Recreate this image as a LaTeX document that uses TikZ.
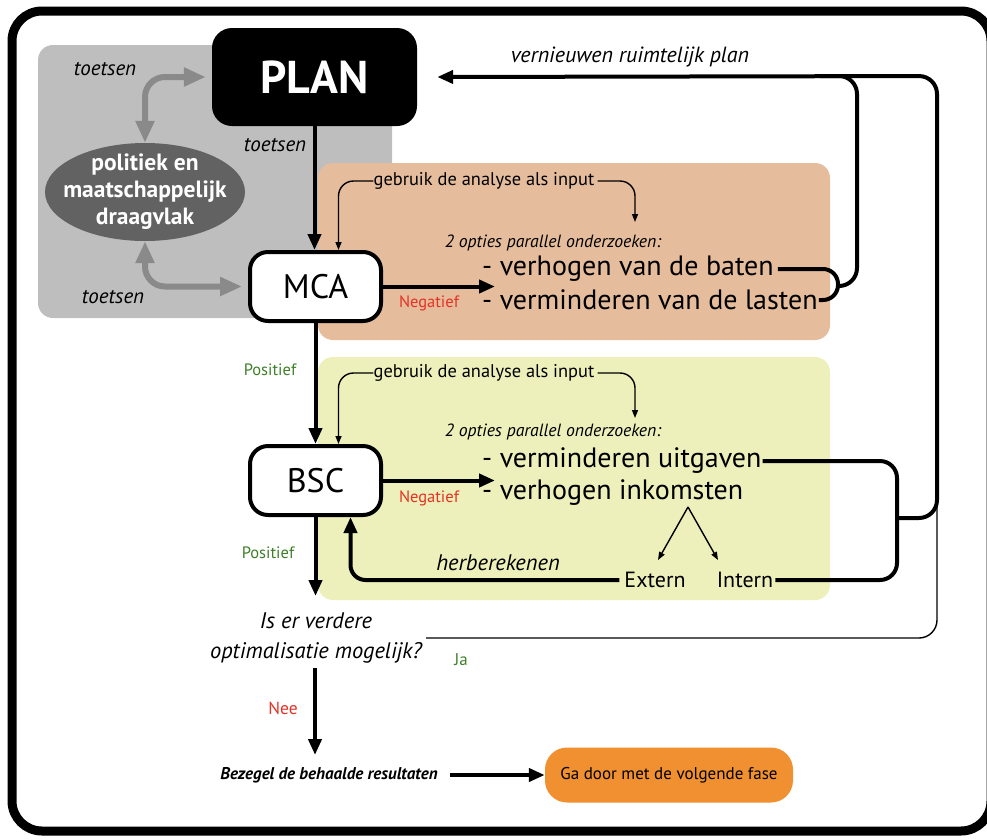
\documentclass[tikz,border=0pt]{standalone}
\usepackage{fontspec}
\setmainfont{PT Sans}
\usetikzlibrary{arrows.meta,shapes.geometric}
\definecolor{peach}{RGB}{229,189,156}
\definecolor{pale}{RGB}{237,240,186}
\definecolor{regiongray}{RGB}{190,190,190}
\definecolor{arrowgray}{RGB}{138,138,138}
\definecolor{ovalgray}{RGB}{98,98,98}
\definecolor{nogo}{RGB}{228,50,38}
\definecolor{go}{RGB}{62,128,40}
\definecolor{gofase}{RGB}{240,144,48}
\tikzset{
  procbox/.style={draw, line width=4pt, rounded corners=18pt, fill=white,
    minimum width=131pt, minimum height=69pt, inner sep=0pt,
    font=\fontsize{34}{38}\selectfont},
  flow/.style={line width=4pt, -{Triangle[length=16pt,width=13pt]}},
  bar/.style={line width=4pt},
  thinflow/.style={line width=1.4pt, -{Triangle[length=8pt,width=6pt]}},
  grayflow/.style={draw=arrowgray, line width=6pt,
    {Triangle[length=22pt,width=18pt]}-{Triangle[length=22pt,width=18pt]}},
  lbl/.style={inner sep=0pt, font=\fontsize{21}{25}\selectfont\itshape},
  small/.style={inner sep=0pt, font=\fontsize{18.4}{22}\selectfont},
  opties/.style={inner sep=0pt, font=\fontsize{17.7}{21}\selectfont\itshape},
  option/.style={inner sep=0pt, anchor=west, font=\fontsize{28}{33}\selectfont},
  yes/.style={inner sep=0pt, text=go, font=\fontsize{16.5}{20}\selectfont},
  no/.style={inner sep=0pt, text=nogo, font=\fontsize{16.5}{20}\selectfont}
}
\begin{document}
\begin{tikzpicture}[x=1pt,y=-1pt]
  \useasboundingbox (0,0) rectangle (987,839);
  \draw[line width=9pt, rounded corners=30pt] (12,11) rectangle (991,831);
  \fill[regiongray, rounded corners=15pt] (38,45) rectangle (392,318);
  \fill[peach, rounded corners=15pt] (318,163) rectangle (830,340);
  \fill[pale, rounded corners=15pt] (318,357) rectangle (830,600);

  \node[fill=black, text=white, rounded corners=20pt, minimum width=205pt,
    minimum height=98pt, font=\fontsize{46}{50}\selectfont\bfseries] (plan) at (314.5,77) {PLAN};
  \node[ellipse, fill=ovalgray, minimum width=200pt, minimum height=98pt,
    inner sep=0pt] (draagvlak) at (145,192) {};
  \node[text=white, align=center, inner sep=0pt,
    font=\fontsize{23.5}{27}\selectfont\bfseries] (draagvlaktekst) at (draagvlak)
    {politiek en\\maatschappelijk\\draagvlak};
  \node[procbox] (mca) at (315.5,286.5) {MCA};
  \node[procbox] (bsc) at (315.5,480.5) {BSC};

  \node[lbl] (toets1) at (105,69) {toetsen};
  \node[lbl] (toets2) at (275,145) {toetsen};
  \node[lbl] (toets3) at (113,297) {toetsen};
  \node[lbl, font=\fontsize{22}{26}\selectfont\itshape] (vernieuw) at (630,57) {vernieuwen ruimtelijk plan};

  \node[small] (gebruik1) at (484,181) {gebruik de analyse als input};
  \node[opties] (opties1) at (553,243) {2 opties parallel onderzoeken:};
  \node[option] (baten) at (482,269) {- verhogen van de baten};
  \node[option] (lasten) at (482,300) {- verminderen van de lasten};
  \node[no] (neg1) at (429,303) {Negatief};
  \node[yes] (pos1) at (270,370) {Positief};

  \node[small] (gebruik2) at (484,373) {gebruik de analyse als input};
  \node[opties] (opties2) at (553,432) {2 opties parallel onderzoeken:};
  \node[option] (uitgaven) at (482,461) {- verminderen uitgaven};
  \node[option] (inkomsten) at (482,493) {- verhogen inkomsten};
  \node[no] (neg2) at (429,498) {Negatief};
  \node[yes] (pos2) at (268,553) {Positief};
  \node[lbl, font=\fontsize{22.5}{26}\selectfont\itshape] (herbereken) at (498,563) {herberekenen};
  \node[inner sep=0pt, font=\fontsize{22}{26}\selectfont] (extern) at (655,580) {Extern};
  \node[inner sep=0pt, font=\fontsize{22}{26}\selectfont] (intern) at (745,580) {Intern};

  \node[lbl, font=\fontsize{22.5}{30}\selectfont\itshape, align=center] (optq) at (316,638)
    {Is er verdere\\optimalisatie mogelijk?};
  \node[yes, font=\fontsize{17}{20}\selectfont] (ja) at (461,660) {Ja};
  \node[no, font=\fontsize{17.5}{20}\selectfont] (nee) at (283,708) {Nee};
  \node[inner sep=0pt, font=\fontsize{17}{20}\selectfont\bfseries\itshape] (bezegel) at (329,775)
    {Bezegel de behaalde resultaten};
  \node[fill=gofase, rounded corners=22pt, minimum width=248pt, minimum height=55pt,
    font=\fontsize{17}{20}\selectfont] (gadoor) at (669,775) {Ga door met de volgende fase};

  \coordinate (mcajoin) at (838,286);
  \coordinate (bscjoin) at (897,518);
  \coordinate (split) at (688,507);

  \draw[grayflow, rounded corners=20pt] (draagvlak.north) |- ([xshift=-6pt]plan.west);
  \draw[grayflow, rounded corners=20pt] (draagvlak.south) |- ([xshift=-6pt]mca.west);

  \draw[flow] (plan.south) -- (plan.south |- mca.north);
  \draw[flow] (mca.south) -- (bsc.north);
  \draw[flow] (bsc.south) -- ++(0,79);
  \draw[flow] (315,668) -- (315,755);
  \draw[flow] (mca.east) -- ++(112,0);
  \draw[flow] (bsc.east) -- ++(112,0);
  \draw[flow, shorten <=12pt] (bezegel.east) -- (gadoor.west);

  \draw[thinflow, rounded corners=15pt] (gebruik1.west) -| ([xshift=23pt]mca.north);
  \draw[thinflow, rounded corners=15pt] ([xshift=3pt]gebruik1.east) -| (635,222);
  \draw[thinflow, rounded corners=15pt] (gebruik2.west) -| ([xshift=23pt]bsc.north);
  \draw[thinflow, rounded corners=15pt] ([xshift=3pt]gebruik2.east) -| (635,418);
  \draw[thinflow] (split) -- (658,560);
  \draw[thinflow] (split) -- (718,560);

  \draw[bar, rounded corners=15pt] ([xshift=4pt]baten.east) -| (mcajoin);
  \draw[bar, rounded corners=15pt] ([xshift=1pt]lasten.east) -| (mcajoin);
  \draw[bar, rounded corners=18pt] (mcajoin) -| (857,76) -- (820,76);
  \draw[bar, rounded corners=17pt] ([xshift=1pt]uitgaven.east) -| (bscjoin) |- ([xshift=2pt]intern.east);
  \draw[flow, rounded corners=18pt] (bscjoin) -| (937,76) -- ([xshift=20pt]plan.east);
  \draw[flow, rounded corners=15pt] ([xshift=-5pt]extern.west) -| ([xshift=35pt]bsc.south);
  \draw[line width=1.4pt, rounded corners=18pt] ([xshift=4pt]optq.east) -| (937,505);
\end{tikzpicture}
\end{document}
